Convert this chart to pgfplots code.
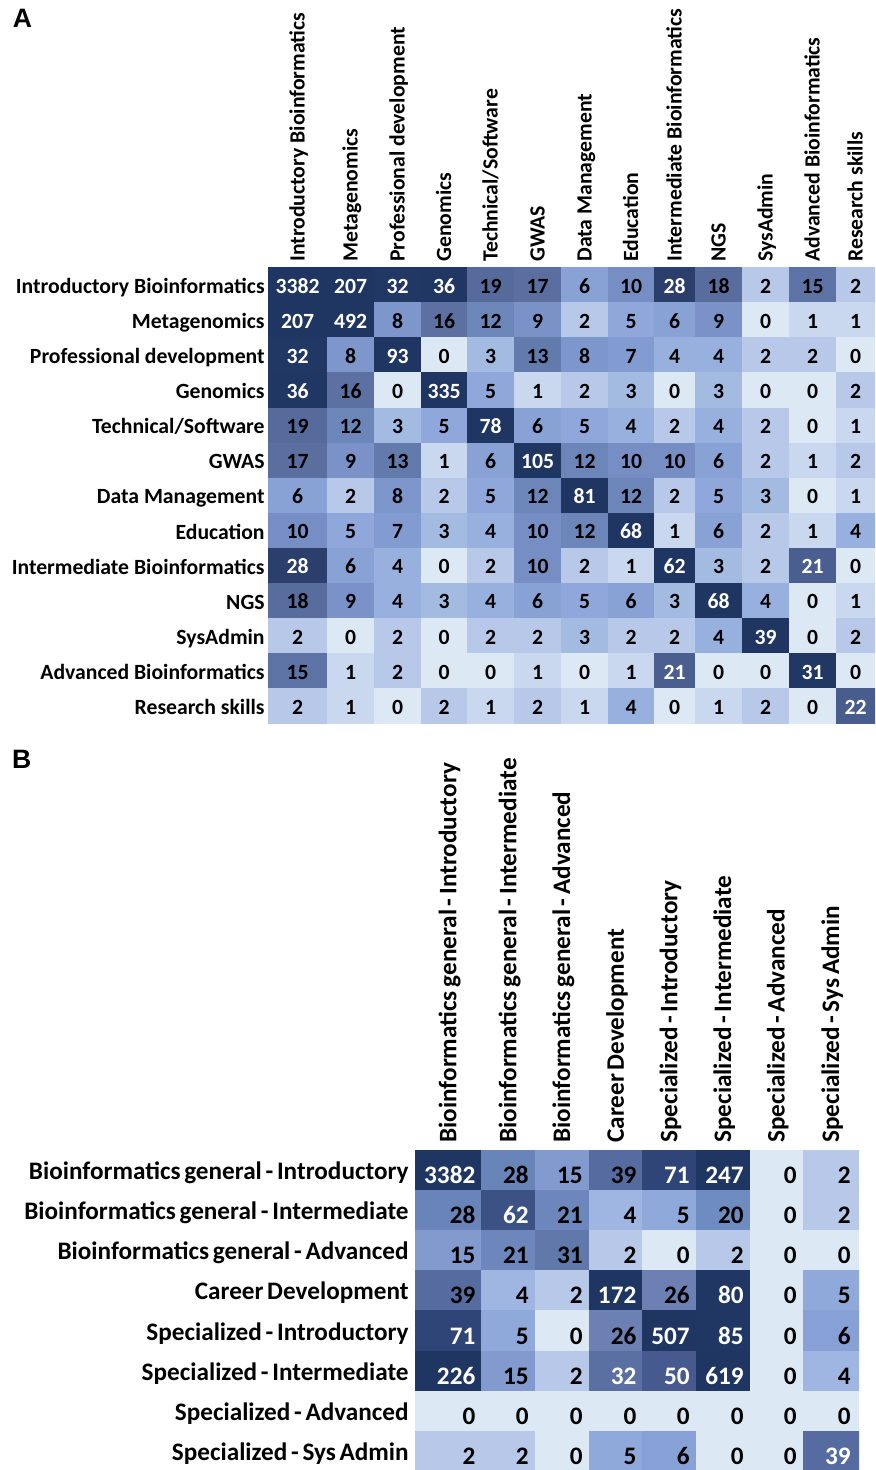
\documentclass[border=0pt]{standalone}
\usepackage{fontspec}
\setmainfont{Carlito}
\newfontfamily\arialfont{Liberation Sans}
\newfontfamily\carlitonarrowspace[WordSpace=0.65]{Carlito}
\usepackage{pgfplots}
\usepackage{pgfplotstable}
\pgfplotsset{compat=1.18}

% Panel A: cell corner grid (x = column edge, v = value of the cell to the lower right)
\pgfplotstableread[row sep=\\]{
x v\\
268 3382\\327 207\\374 32\\421 36\\467 19\\514 17\\561 6\\608 10\\654 28\\695 18\\742 2\\789 15\\836 2\\875 0\\
268 207\\327 492\\374 8\\421 16\\467 12\\514 9\\561 2\\608 5\\654 6\\695 9\\742 0\\789 1\\836 1\\875 0\\
268 32\\327 8\\374 93\\421 0\\467 3\\514 13\\561 8\\608 7\\654 4\\695 4\\742 2\\789 2\\836 0\\875 0\\
268 36\\327 16\\374 0\\421 335\\467 5\\514 1\\561 2\\608 3\\654 0\\695 3\\742 0\\789 0\\836 2\\875 0\\
268 19\\327 12\\374 3\\421 5\\467 78\\514 6\\561 5\\608 4\\654 2\\695 4\\742 2\\789 0\\836 1\\875 0\\
268 17\\327 9\\374 13\\421 1\\467 6\\514 105\\561 12\\608 10\\654 10\\695 6\\742 2\\789 1\\836 2\\875 0\\
268 6\\327 2\\374 8\\421 2\\467 5\\514 12\\561 81\\608 12\\654 2\\695 5\\742 3\\789 0\\836 1\\875 0\\
268 10\\327 5\\374 7\\421 3\\467 4\\514 10\\561 12\\608 68\\654 1\\695 6\\742 2\\789 1\\836 4\\875 0\\
268 28\\327 6\\374 4\\421 0\\467 2\\514 10\\561 2\\608 1\\654 62\\695 3\\742 2\\789 21\\836 0\\875 0\\
268 18\\327 9\\374 4\\421 3\\467 4\\514 6\\561 5\\608 6\\654 3\\695 68\\742 4\\789 0\\836 1\\875 0\\
268 2\\327 0\\374 2\\421 0\\467 2\\514 2\\561 3\\608 2\\654 2\\695 4\\742 39\\789 0\\836 2\\875 0\\
268 15\\327 1\\374 2\\421 0\\467 0\\514 1\\561 0\\608 1\\654 21\\695 0\\742 0\\789 31\\836 0\\875 0\\
268 2\\327 1\\374 0\\421 2\\467 1\\514 2\\561 1\\608 4\\654 0\\695 1\\742 2\\789 0\\836 22\\875 0\\
268 0\\327 0\\374 0\\421 0\\467 0\\514 0\\561 0\\608 0\\654 0\\695 0\\742 0\\789 0\\836 0\\875 0\\
}\Aedge

% Panel A: cell labels (x = cell centre, v = value, w = 1 for white text)
\pgfplotstableread[row sep=\\]{
x v w\\
297.5 3382 1\\350.5 207 1\\397.5 32 1\\444 36 1\\490.5 19 0\\537.5 17 0\\584.5 6 0\\631 10 0\\674.5 28 1\\718.5 18 0\\765.5 2 0\\812.5 15 0\\855.5 2 0\\
297.5 207 1\\350.5 492 1\\397.5 8 0\\444 16 0\\490.5 12 0\\537.5 9 0\\584.5 2 0\\631 5 0\\674.5 6 0\\718.5 9 0\\765.5 0 0\\812.5 1 0\\855.5 1 0\\
297.5 32 1\\350.5 8 0\\397.5 93 1\\444 0 0\\490.5 3 0\\537.5 13 0\\584.5 8 0\\631 7 0\\674.5 4 0\\718.5 4 0\\765.5 2 0\\812.5 2 0\\855.5 0 0\\
297.5 36 1\\350.5 16 0\\397.5 0 0\\444 335 1\\490.5 5 0\\537.5 1 0\\584.5 2 0\\631 3 0\\674.5 0 0\\718.5 3 0\\765.5 0 0\\812.5 0 0\\855.5 2 0\\
297.5 19 0\\350.5 12 0\\397.5 3 0\\444 5 0\\490.5 78 1\\537.5 6 0\\584.5 5 0\\631 4 0\\674.5 2 0\\718.5 4 0\\765.5 2 0\\812.5 0 0\\855.5 1 0\\
297.5 17 0\\350.5 9 0\\397.5 13 0\\444 1 0\\490.5 6 0\\537.5 105 1\\584.5 12 0\\631 10 0\\674.5 10 0\\718.5 6 0\\765.5 2 0\\812.5 1 0\\855.5 2 0\\
297.5 6 0\\350.5 2 0\\397.5 8 0\\444 2 0\\490.5 5 0\\537.5 12 0\\584.5 81 1\\631 12 0\\674.5 2 0\\718.5 5 0\\765.5 3 0\\812.5 0 0\\855.5 1 0\\
297.5 10 0\\350.5 5 0\\397.5 7 0\\444 3 0\\490.5 4 0\\537.5 10 0\\584.5 12 0\\631 68 1\\674.5 1 0\\718.5 6 0\\765.5 2 0\\812.5 1 0\\855.5 4 0\\
297.5 28 1\\350.5 6 0\\397.5 4 0\\444 0 0\\490.5 2 0\\537.5 10 0\\584.5 2 0\\631 1 0\\674.5 62 1\\718.5 3 0\\765.5 2 0\\812.5 21 1\\855.5 0 0\\
297.5 18 0\\350.5 9 0\\397.5 4 0\\444 3 0\\490.5 4 0\\537.5 6 0\\584.5 5 0\\631 6 0\\674.5 3 0\\718.5 68 1\\765.5 4 0\\812.5 0 0\\855.5 1 0\\
297.5 2 0\\350.5 0 0\\397.5 2 0\\444 0 0\\490.5 2 0\\537.5 2 0\\584.5 3 0\\631 2 0\\674.5 2 0\\718.5 4 0\\765.5 39 1\\812.5 0 0\\855.5 2 0\\
297.5 15 0\\350.5 1 0\\397.5 2 0\\444 0 0\\490.5 0 0\\537.5 1 0\\584.5 0 0\\631 1 0\\674.5 21 1\\718.5 0 0\\765.5 0 0\\812.5 31 1\\855.5 0 0\\
297.5 2 0\\350.5 1 0\\397.5 0 0\\444 2 0\\490.5 1 0\\537.5 2 0\\584.5 1 0\\631 4 0\\674.5 0 0\\718.5 1 0\\765.5 2 0\\812.5 0 0\\855.5 22 1\\
}\Alab

% Panel B: cell corner grid
\pgfplotstableread[row sep=\\]{
x v\\
415 3382\\481.7 28\\535 15\\589 39\\642.7 71\\696 247\\750 0\\803 2\\859 0\\
415 28\\481.7 62\\535 21\\589 4\\642.7 5\\696 20\\750 0\\803 2\\859 0\\
415 15\\481.7 21\\535 31\\589 2\\642.7 0\\696 2\\750 0\\803 0\\859 0\\
415 39\\481.7 4\\535 2\\589 172\\642.7 26\\696 80\\750 0\\803 5\\859 0\\
415 71\\481.7 5\\535 0\\589 26\\642.7 507\\696 85\\750 0\\803 6\\859 0\\
415 226\\481.7 15\\535 2\\589 32\\642.7 50\\696 619\\750 0\\803 4\\859 0\\
415 0\\481.7 0\\535 0\\589 0\\642.7 0\\696 0\\750 0\\803 0\\859 0\\
415 2\\481.7 2\\535 0\\589 5\\642.7 6\\696 0\\750 0\\803 39\\859 0\\
415 0\\481.7 0\\535 0\\589 0\\642.7 0\\696 0\\750 0\\803 0\\859 0\\
}\Bedge

% Panel B: cell labels (x = right-aligned position)
\pgfplotstableread[row sep=\\]{
x v w\\
475.7 3382 1\\529 28 0\\583 15 0\\636.7 39 0\\690 71 1\\744 247 1\\797 0 0\\851 2 0\\
475.7 28 0\\529 62 1\\583 21 0\\636.7 4 0\\690 5 0\\744 20 0\\797 0 0\\851 2 0\\
475.7 15 0\\529 21 0\\583 31 0\\636.7 2 0\\690 0 0\\744 2 0\\797 0 0\\851 0 0\\
475.7 39 0\\529 4 0\\583 2 0\\636.7 172 1\\690 26 0\\744 80 1\\797 0 0\\851 5 0\\
475.7 71 1\\529 5 0\\583 0 0\\636.7 26 0\\690 507 1\\744 85 1\\797 0 0\\851 6 0\\
475.7 226 1\\529 15 0\\583 2 0\\636.7 32 1\\690 50 1\\744 619 1\\797 0 0\\851 4 0\\
475.7 0 0\\529 0 0\\583 0 0\\636.7 0 0\\690 0 0\\744 0 0\\797 0 0\\851 0 0\\
475.7 2 0\\529 2 0\\583 0 0\\636.7 5 0\\690 6 0\\744 0 0\\797 0 0\\851 39 1\\
}\Blab

\tikzset{
  fontA/.style={font=\fontsize{10.85}{13}\selectfont\bfseries},
  fontB/.style={font=\fontsize{12.6}{15}\selectfont\bfseries},
  fontBlab/.style={font=\carlitonarrowspace\fontsize{12.6}{15}\selectfont\bfseries},
}

\begin{document}
\begin{tikzpicture}
\useasboundingbox (0pt,0pt) rectangle (437.5pt,-735pt);
\node[anchor=base west, inner sep=0pt, font={\arialfont\fontsize{13.3}{16}\selectfont\bfseries}] at (6.2pt,-14pt) {A};
\node[anchor=base west, inner sep=0pt, font={\arialfont\fontsize{13.3}{16}\selectfont\bfseries}] at (5.8pt,-384pt) {B};

% ---------------- Panel A ----------------
\begin{axis}[
  at={(134pt,-133.75pt)}, anchor=north west,
  scale only axis, width=303.5pt, height=228.15pt,
  xmin=268, xmax=875, ymin=-723.8, ymax=-267.5,
  axis line style={draw=none}, major tick length=0pt, tick style={draw=none},
  colormap={mapA}{
    rgb255(0pt)=(221,232,245); rgb255(1pt)=(201,216,238); rgb255(2pt)=(183,200,232);
    rgb255(3pt)=(163,186,225); rgb255(4pt)=(152,176,222); rgb255(5pt)=(143,167,218);
    rgb255(6pt)=(137,162,213); rgb255(7pt)=(130,155,208); rgb255(8pt)=(125,150,204);
    rgb255(9pt)=(122,146,200); rgb255(10pt)=(118,142,196); rgb255(12pt)=(109,134,186);
    rgb255(13pt)=(99,122,172); rgb255(15pt)=(94,115,165); rgb255(17pt)=(90,110,160);
    rgb255(19pt)=(86,106,156); rgb255(21pt)=(74,94,144); rgb255(22pt)=(72,92,142);
    rgb255(28pt)=(43,62,108); rgb255(31pt)=(33,55,100); rgb255(40pt)=(31,54,99)},
  point meta min=0, point meta max=40,
  xtick={297.5,350.5,397.5,444,490.5,537.5,584.5,631,674.5,718.5,765.5,812.5,855.5},
  xticklabels={Introductory Bioinformatics,Metagenomics,Professional development,Genomics,Technical/Software,GWAS,Data Management,Education,Intermediate Bioinformatics,NGS,SysAdmin,Advanced Bioinformatics,Research skills},
  xticklabel pos=right,
  xticklabel style={rotate=90, anchor=west, inner xsep=2.75pt, inner ysep=0pt, text height=7pt, text depth=0pt, fontA},
  ytick={-285.05,-320.15,-355.25,-390.35,-425.45,-460.55,-495.65,-530.75,-565.85,-600.95,-636.05,-671.15,-706.25},
  yticklabels={Introductory Bioinformatics,Metagenomics,Professional development,Genomics,Technical/Software,GWAS,Data Management,Education,Intermediate Bioinformatics,NGS,SysAdmin,Advanced Bioinformatics,Research skills},
  yticklabel style={anchor=east, inner xsep=1.5pt, inner ysep=0pt, text height=8.3pt, text depth=0pt, fontA},
]
\addplot[surf, shader=flat corner, mesh/cols=14, point meta=explicit]
  table[x=x, y expr={-(267.5+35.1*floor((\coordindex+0.5)/14))}, meta=v] {\Aedge};
\addplot[only marks, mark=none, point meta=explicit symbolic,
  restrict expr to domain={\thisrow{w}}{-0.5:0.5},
  nodes near coords={\pgfplotspointmeta},
  every node near coord/.append style={anchor=base, inner sep=0pt, text=black, fontA}]
  table[x=x, y expr={-(293.05+35.1*floor((\coordindex+0.5)/13))}, meta=v] {\Alab};
\addplot[only marks, mark=none, point meta=explicit symbolic,
  restrict expr to domain={\thisrow{w}}{0.5:1.5},
  nodes near coords={\pgfplotspointmeta},
  every node near coord/.append style={anchor=base, inner sep=0pt, text=white, fontA}]
  table[x=x, y expr={-(293.05+35.1*floor((\coordindex+0.5)/13))}, meta=v] {\Alab};
\end{axis}

% ---------------- Panel B ----------------
\begin{axis}[
  at={(207.5pt,-575pt)}, anchor=north west,
  scale only axis, width=222pt, height=160pt,
  xmin=415, xmax=859, ymin=-1470, ymax=-1150,
  axis line style={draw=none}, major tick length=0pt, tick style={draw=none},
  colormap={mapB}{
    rgb255(0pt)=(221,232,245); rgb255(2pt)=(183,200,232); rgb255(4pt)=(158,182,225);
    rgb255(5pt)=(144,169,219); rgb255(6pt)=(135,161,215); rgb255(15pt)=(130,154,206);
    rgb255(20pt)=(111,140,192); rgb255(21pt)=(109,135,188); rgb255(26pt)=(108,128,180);
    rgb255(28pt)=(104,132,185); rgb255(31pt)=(96,120,170); rgb255(32pt)=(90,111,162);
    rgb255(39pt)=(86,108,160); rgb255(50pt)=(70,90,143); rgb255(62pt)=(60,82,133);
    rgb255(71pt)=(47,69,119); rgb255(80pt)=(32,55,100); rgb255(100pt)=(31,54,99)},
  point meta min=0, point meta max=100,
  xtick={448.35,508.35,562,615.85,669.35,723,776.5,831},
  xticklabels={Bioinformatics general - Introductory,Bioinformatics general - Intermediate,Bioinformatics general - Advanced,Career Development,Specialized - Introductory,Specialized - Intermediate,Specialized - Advanced,Specialized - Sys Admin},
  xticklabel pos=right,
  xticklabel style={rotate=90, anchor=west, inner xsep=3.5pt, inner ysep=0pt, text height=8.1pt, text depth=0pt, fontBlab},
  ytick={-1170.1,-1210.3,-1250.5,-1290.7,-1330.9,-1371.1,-1411.3,-1451.5},
  yticklabels={Bioinformatics general - Introductory,Bioinformatics general - Intermediate,Bioinformatics general - Advanced,Career Development,Specialized - Introductory,Specialized - Intermediate,Specialized - Advanced,Specialized - Sys Admin},
  yticklabel style={anchor=east, inner xsep=3pt, inner ysep=0pt, text height=9.2pt, text depth=0pt, fontBlab},
]
\addplot[surf, shader=flat corner, mesh/cols=9, point meta=explicit]
  table[x=x, y expr={-(1150+40.2*floor((\coordindex+0.5)/9))}, meta=v] {\Bedge};
\addplot[only marks, mark=none, point meta=explicit symbolic,
  restrict expr to domain={\thisrow{w}}{-0.5:0.5},
  nodes near coords={\pgfplotspointmeta},
  every node near coord/.append style={anchor=base east, inner sep=0pt, text=black, fontB}]
  table[x=x, y expr={-(1183.3+40.2*floor((\coordindex+0.5)/8))}, meta=v] {\Blab};
\addplot[only marks, mark=none, point meta=explicit symbolic,
  restrict expr to domain={\thisrow{w}}{0.5:1.5},
  nodes near coords={\pgfplotspointmeta},
  every node near coord/.append style={anchor=base east, inner sep=0pt, text=white, fontB}]
  table[x=x, y expr={-(1183.3+40.2*floor((\coordindex+0.5)/8))}, meta=v] {\Blab};
\end{axis}
\end{tikzpicture}
\end{document}
